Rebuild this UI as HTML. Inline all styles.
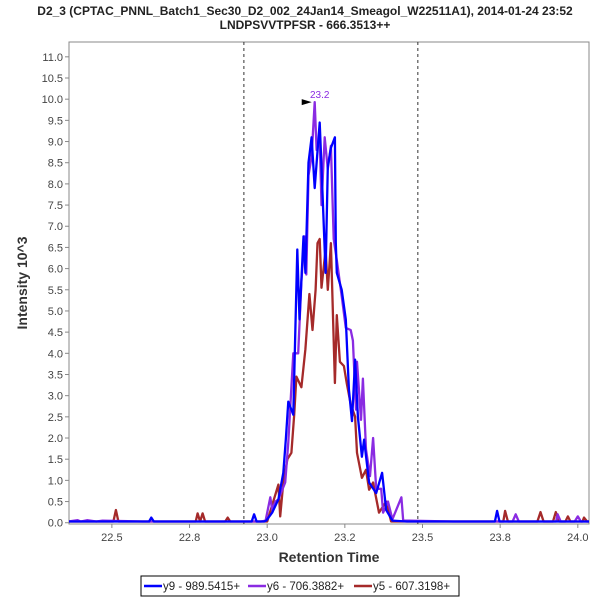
<!DOCTYPE html>
<html><head><meta charset="utf-8"><style>
body{margin:0;background:#fff;font-family:"Liberation Sans",sans-serif}
svg text{font-family:"Liberation Sans",sans-serif}
</style></head><body>
<svg id="chart" width="600" height="600" xmlns="http://www.w3.org/2000/svg">
<text x="305" y="15" text-anchor="middle" font-size="12" font-weight="bold" fill="#222">D2_3 (CPTAC_PNNL_Batch1_Sec30_D2_002_24Jan14_Smeagol_W22511A1), 2014-01-24 23:52</text>
<text x="305" y="29" text-anchor="middle" font-size="12" font-weight="bold" fill="#222">LNDPSVVTPFSR - 666.3513++</text>
<text transform="translate(27,283) rotate(-90)" text-anchor="middle" font-size="14" font-weight="bold" fill="#333">Intensity 10^3</text>
<text x="329" y="562" text-anchor="middle" font-size="14" font-weight="bold" fill="#333">Retention Time</text>
<g id="plot"></g>
<g>
<rect x="141" y="576" width="318" height="20" fill="#fff" stroke="#000"/>
<g><line x1="144" y1="586" x2="162" y2="586" stroke="#0000ff" stroke-width="2.5"/><text x="163" y="590" font-size="11.5" fill="#222">y9 - 989.5415+</text></g>
<g><line x1="248" y1="586" x2="266" y2="586" stroke="#8a2be2" stroke-width="2.5"/><text x="267" y="590" font-size="11.5" fill="#222">y6 - 706.3882+</text></g>
<g><line x1="354" y1="586" x2="372" y2="586" stroke="#a52a2a" stroke-width="2.5"/><text x="373" y="590" font-size="11.5" fill="#222">y5 - 607.3198+</text></g>
</g>
</svg>
<script>
const xTicks=[22.5,22.75,23.0,23.25,23.5,23.75,24.0];
const xTickLabels=["22.5","22.8","23.0","23.2","23.5","23.8","24.0"];
const yTicks=[0,0.5,1,1.5,2,2.5,3,3.5,4,4.5,5,5.5,6,6.5,7,7.5,8,8.5,9,9.5,10,10.5,11];
const boundaries=[22.925,23.485];
const peakTime=23.153, peakValue=9.93, peakLabel="23.2";
const y9Times=[22.36,22.45,22.62,22.627,22.635,22.80,22.95,22.958,22.966,22.99,22.997,23.016,23.036,23.052,23.060,23.068,23.084,23.097,23.104,23.117,23.123,23.133,23.143,23.153,23.169,23.175,23.188,23.195,23.205,23.218,23.221,23.224,23.240,23.253,23.263,23.273,23.283,23.292,23.305,23.312,23.328,23.351,23.370,23.383,23.403,23.45,23.55,23.733,23.740,23.748,23.85,23.95,24.04];
const y9Values=[0.03,0.03,0.03,0.12,0.03,0.03,0.03,0.2,0.03,0.03,0.05,0.24,0.55,1.18,1.96,2.86,2.55,6.45,4.8,6.76,5.9,8.5,9.1,7.9,9.45,8.4,5.9,8.4,8.85,9.1,6.6,5.9,5.5,4.8,3.15,2.4,3.85,2.5,1.56,1.96,0.95,0.7,1.18,0.3,0.05,0.03,0.03,0.03,0.28,0.03,0.03,0.03,0.03];
const y6Times=[22.36,22.39,22.40,22.42,22.45,22.47,22.6,22.8,22.98,22.995,23.010,23.016,23.026,23.036,23.058,23.068,23.084,23.091,23.100,23.110,23.120,23.126,23.133,23.143,23.153,23.159,23.169,23.175,23.185,23.195,23.205,23.214,23.224,23.240,23.253,23.269,23.276,23.286,23.289,23.302,23.308,23.318,23.331,23.341,23.351,23.367,23.373,23.389,23.403,23.432,23.438,23.458,23.6,23.79,23.80,23.81,23.93,23.935,23.945,23.99,24.0,24.01,24.04];
const y6Values=[0.03,0.06,0.03,0.06,0.03,0.05,0.03,0.03,0.03,0.05,0.6,0.3,0.5,0.55,0.95,1.9,4.0,4.0,4.0,5.7,6.76,5.86,8.2,8.65,9.93,8.8,9.1,7.5,9.1,8.35,8.9,6.7,6.2,5.35,4.6,4.55,4.3,2.67,3.8,2.43,3.4,1.73,1.1,2.0,0.8,0.8,0.24,0.5,0.08,0.6,0.05,0.05,0.03,0.03,0.2,0.03,0.03,0.2,0.03,0.03,0.15,0.03,0.03];
const y5Times=[22.36,22.505,22.513,22.521,22.77,22.776,22.784,22.792,22.80,22.865,22.873,22.881,23.0,23.036,23.042,23.052,23.065,23.078,23.087,23.094,23.110,23.123,23.136,23.146,23.156,23.162,23.169,23.175,23.188,23.195,23.205,23.218,23.224,23.234,23.247,23.256,23.269,23.283,23.289,23.305,23.318,23.328,23.341,23.360,23.383,23.399,23.5,23.760,23.766,23.775,23.87,23.880,23.89,23.920,23.929,23.94,23.960,23.968,23.976,24.015,24.020,24.03,24.04];
const y5Values=[0.03,0.03,0.3,0.03,0.03,0.22,0.03,0.22,0.03,0.03,0.12,0.03,0.03,0.9,0.15,0.95,1.5,1.65,2.55,3.45,3.2,4.1,5.4,4.55,5.5,6.6,6.7,5.55,6.45,5.5,6.6,3.3,4.9,3.8,3.7,3.3,2.8,2.5,1.65,1.06,1.25,0.78,0.95,0.24,0.5,0.03,0.03,0.03,0.28,0.03,0.03,0.25,0.03,0.03,0.25,0.03,0.03,0.15,0.03,0.03,0.12,0.03,0.03];

const L=69,R=589,T=42,B=524;
const xMin=22.362,xMax=24.036,yMin=-0.03,yMax=11.35;
const sx=t=>L+(t-xMin)/(xMax-xMin)*(R-L);
const sy=v=>B-(v-yMin)/(yMax-yMin)*(B-T);
const NS="http://www.w3.org/2000/svg";
const g=document.getElementById('plot');
const clip=document.createElementNS(NS,'clipPath');clip.setAttribute('id','pc');
const cr=document.createElementNS(NS,'rect');cr.setAttribute('x',L);cr.setAttribute('y',T);cr.setAttribute('width',R-L);cr.setAttribute('height',B-T);clip.appendChild(cr);g.appendChild(clip);
function mk(tag,attrs,parent){const e=document.createElementNS(NS,tag);for(const k in attrs)e.setAttribute(k,attrs[k]);(parent||g).appendChild(e);return e;}
const frame=mk('rect',{x:L,y:T,width:R-L,height:B-T,fill:'#fff',stroke:'#888'});


yTicks.forEach(v=>{
  const tk=mk('line',{x1:L-4,x2:L,y1:sy(v),y2:sy(v),stroke:'#888'});
  
  
  const tx=mk('text',{x:L-6,y:sy(v)+4,'text-anchor':'end','font-size':'11',fill:'#444'});
  tx.textContent=v.toFixed(1);
  
  
});
xTicks.forEach((v,i)=>{
  const tk=mk('line',{x1:sx(v),x2:sx(v),y1:B,y2:B+4,stroke:'#888'});
  
  
  const tx=mk('text',{x:sx(v),y:B+17,'text-anchor':'middle','font-size':'11',fill:'#444'});
  tx.textContent=xTickLabels[i];
  
  
});
boundaries.forEach(b=>{
  const d=mk('line',{x1:sx(b),x2:sx(b),y1:T,y2:B,stroke:'#333','stroke-dasharray':'3,3'});
  
  
});
function series(times,vals,color,name){
  const p=mk('polyline',{points:times.map((t,i)=>sx(t).toFixed(1)+','+sy(vals[i]).toFixed(1)).join(' '),fill:'none',stroke:color,'stroke-width':2.3,'stroke-linejoin':'round','clip-path':'url(#pc)'});
  
  
}
series(y5Times,y5Values,'#a52a2a','series-y5');
series(y6Times,y6Values,'#8a2be2','series-y6');
series(y9Times,y9Values,'#0000ff','series-y9');
const px=sx(peakTime),py=sy(peakValue);
const tri=mk('polygon',{points:`${px-13},${py-3} ${px-3},${py} ${px-13},${py+3}`,fill:'#000'});


const pl=mk('text',{x:px+5,y:py-4,'text-anchor':'middle','font-size':'10',fill:'#8a2be2'});
pl.textContent=peakLabel;


</script>
</body></html>
